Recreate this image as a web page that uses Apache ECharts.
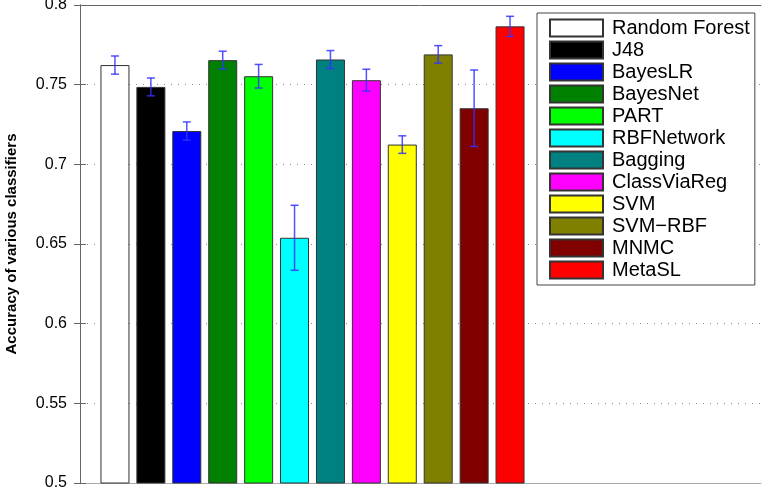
<!DOCTYPE html>
<html>
<head>
<meta charset="utf-8">
<script src="https://cdn.jsdelivr.net/npm/echarts@6/dist/echarts.min.js"></script>
<style>
html,body{margin:0;padding:0;background:#fff;}
#chart{width:763px;height:489px;}
</style>
</head>
<body>
<div id="chart"></div>
<script>
var classifiers = ['Random Forest','J48','BayesLR','BayesNet','PART','RBFNetwork','Bagging','ClassViaReg','SVM','SVM\u2212RBF','MNMC','MetaSL'];
var accuracy = [0.7623, 0.7486, 0.7209, 0.7654, 0.7553, 0.6539, 0.7658, 0.7528, 0.7124, 0.7690, 0.7352, 0.7866];
var errors = [0.0057, 0.0056, 0.0057, 0.0056, 0.0074, 0.0204, 0.0056, 0.0069, 0.0055, 0.0055, 0.0240, 0.0063];
var barColors = ['#ffffff','#000000','#0000ff','#008000','#00ff00','#00ffff','#008080','#ff00ff','#ffff00','#808000','#800000','#ff0000'];
var yTicks = [0.5, 0.55, 0.6, 0.65, 0.7, 0.75, 0.8];

var chart = echarts.init(document.getElementById('chart'), null, {renderer:'canvas'});
var FONT = '"Liberation Sans", Arial, sans-serif';
var yMin = yTicks[0], yMax = yTicks[yTicks.length - 1], yStep = yTicks[1] - yTicks[0];

var series = classifiers.map(function(name, i){
  var d = classifiers.map(function(_, j){ return j === i ? accuracy[i] : '-'; });
  return {
    name: name,
    type: 'bar',
    xAxisIndex: 2,
    yAxisIndex: 2,
    barWidth: 29,
    barGap: '-100%',
    itemStyle: {color: barColors[i], borderColor: '#333', borderWidth: 1},
    data: d,
    z: 2
  };
});

var errData = accuracy.map(function(v, i){ return [i, v - errors[i], v + errors[i]]; });
series.push({
  name: 'err',
  type: 'custom',
  xAxisIndex: 2,
  yAxisIndex: 2,
  z: 5,
  data: errData,
  renderItem: function(params, api){
    var x = api.value(0);
    var lo = api.coord([x, api.value(1)]);
    var hi = api.coord([x, api.value(2)]);
    var w = 4;
    var st = {stroke: 'rgba(50,50,255,0.85)', lineWidth: 1.5};
    return {
      type: 'group',
      children: [
        {type:'line', shape:{x1:lo[0], y1:lo[1], x2:hi[0], y2:hi[1]}, style: st},
        {type:'line', shape:{x1:lo[0]-w, y1:lo[1], x2:lo[0]+w, y2:lo[1]}, style: st},
        {type:'line', shape:{x1:hi[0]-w, y1:hi[1], x2:hi[0]+w, y2:hi[1]}, style: st}
      ]
    };
  }
});

chart.setOption({
  animation: false,
  backgroundColor: '#ffffff',
  grid: [
    {left: 80, right: 2, top: 5, bottom: 6, containLabel: false, outerBoundsMode: 'none'},
    {left: 97, width: 431, top: 5, bottom: 6, containLabel: false, outerBoundsMode: 'none'}
  ],
  legend: {
    data: classifiers,
    orient: 'vertical',
    left: 537,
    top: 13,
    padding: [5, 5, 5, 12],
    itemWidth: 53,
    itemHeight: 17,
    itemGap: 2,
    icon: 'rect',
    backgroundColor: '#ffffff',
    borderColor: '#444',
    borderWidth: 1,
    borderRadius: 0,
    textStyle: {fontFamily: FONT, fontSize: 20, color: '#000', lineHeight: 17, padding: [0,0,0,4]},
    selectedMode: false
  },
  xAxis: [
    {gridIndex: 0, type:'value', position:'bottom', min: 0, max: 1,
     axisLine:{show:true, onZero:false, lineStyle:{color:'#aaa', width:1}},
     axisTick:{show:false}, axisLabel:{show:false}, splitLine:{show:false}},
    {gridIndex: 0, type:'value', position:'top', min: 0, max: 1,
     axisLine:{show:true, onZero:false, lineStyle:{color:'#666', width:1}},
     axisTick:{show:false}, axisLabel:{show:false}, splitLine:{show:false}},
    {gridIndex: 1, type:'category', data: classifiers, boundaryGap: true,
     axisLine:{show:false}, axisTick:{show:false}, axisLabel:{show:false}, splitLine:{show:false}}
  ],
  yAxis: [
    {gridIndex: 0, type:'value', position:'left', min: yMin, max: yMax, interval: yStep,
     name: 'Accuracy of various classifiers', nameLocation: 'middle', nameGap: 61,
     nameTextStyle: {fontFamily: FONT, fontSize: 15, fontWeight: 'bold', color: '#000'},
     axisLine:{show:true, lineStyle:{color:'#666', width:1}},
     axisTick:{show:true, inside:true, length:6, lineStyle:{color:'#666'}},
     axisLabel:{fontFamily: FONT, fontSize: 16, color:'#000', margin: 13,
       formatter: function(v){ return String(+v.toFixed(2)); }},
     splitLine:{show:true, lineStyle:{color:'#888', width:1, type:[1,6]}}
    },
    {gridIndex: 0, type:'value', position:'right', min: yMin, max: yMax, interval: yStep,
     axisLine:{show:true, lineStyle:{color:'#666', width:1}},
     axisTick:{show:true, inside:true, length:6, lineStyle:{color:'#666'}},
     axisLabel:{show:false}, splitLine:{show:false}
    },
    {gridIndex: 1, type:'value', min: yMin, max: yMax, interval: yStep,
     axisLine:{show:false}, axisTick:{show:false}, axisLabel:{show:false}, splitLine:{show:false}
    }
  ],
  series: series
});
</script>
</body>
</html>
